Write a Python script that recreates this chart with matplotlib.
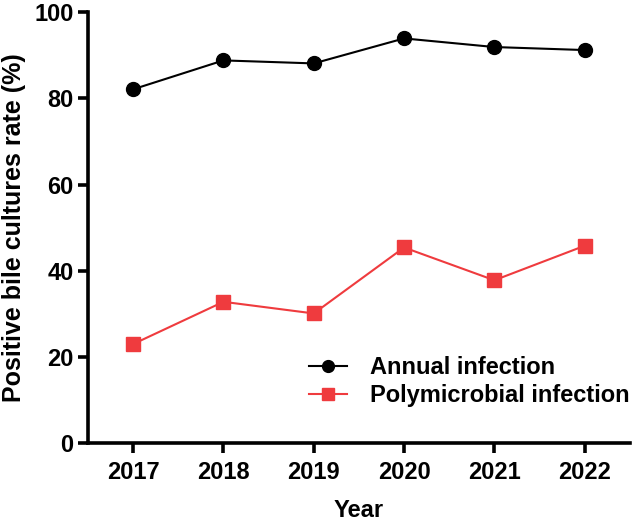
import matplotlib.pyplot as plt

plt.rcParams['font.family'] = ['Liberation Sans', 'DejaVu Sans']
plt.rcParams['font.weight'] = 'bold'

years = [2017, 2018, 2019, 2020, 2021, 2022]
annual = [82.1, 88.8, 88.1, 93.9, 91.9, 91.2]
poly = [23.0, 32.8, 30.1, 45.4, 37.8, 45.8]

fig = plt.figure(figsize=(6.33, 5.27), dpi=100)
ax = fig.add_axes([0.139, 0.159, 0.856, 0.818])

ax.plot(years, annual, color='black', lw=1.5, marker='o', ms=10,
        label='Annual infection', clip_on=False, zorder=3)
ax.plot(years, poly, color='#ef3b3e', lw=1.5, marker='s', ms=10,
        label='Polymicrobial infection', clip_on=False, zorder=3)

ax.set_xlim(2016.5, 2022.5)
ax.set_ylim(0, 100)
ax.set_xticks(years)
ax.set_yticks([0, 20, 40, 60, 80, 100])

for s in ['top', 'right']:
    ax.spines[s].set_visible(False)
for s in ['left', 'bottom']:
    ax.spines[s].set_linewidth(2.6)
ax.tick_params(axis='y', width=2.6, length=7.5, labelsize=17, pad=3)
ax.tick_params(axis='x', width=2.6, length=7.5, labelsize=17, pad=5)
for lab in ax.get_xticklabels() + ax.get_yticklabels():
    lab.set_fontweight('bold')

ax.set_xlabel('Year', fontsize=17, fontweight='bold', labelpad=11)
ax.set_ylabel('Positive bile cultures rate (%)', fontsize=18, fontweight='bold', labelpad=6)

leg = ax.legend(loc='center right', bbox_to_anchor=(1.0, 0.143), frameon=False,
                fontsize=17, handlelength=1.6, handletextpad=1.0, labelspacing=0.2,
                borderaxespad=0, borderpad=0, markerscale=0.85)
for t in leg.get_texts():
    t.set_fontweight('bold')

fig.savefig('out.png', dpi=100)
